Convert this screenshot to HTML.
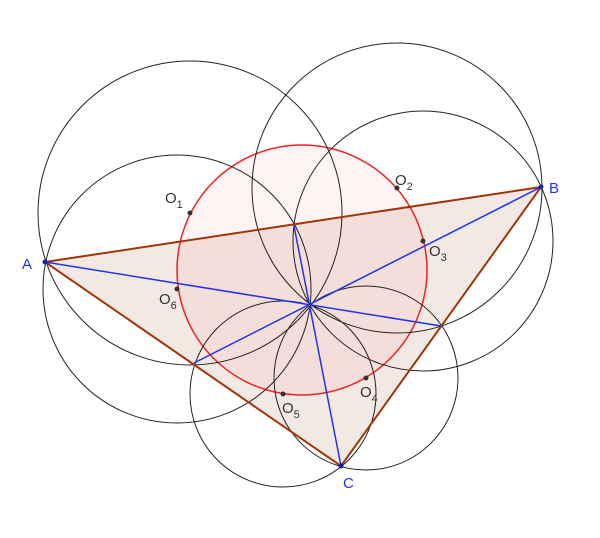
<!DOCTYPE html>
<html><head><meta charset="utf-8"><style>
html,body{margin:0;padding:0;background:#fff;}
svg{display:block;}
text{font-family:"Liberation Sans",sans-serif;}
</style></head><body>
<svg width="600" height="538" viewBox="0 0 600 538" xmlns="http://www.w3.org/2000/svg">
<polygon points="45,262 541,187 341,466" fill="#a0522d" fill-opacity="0.13" stroke="none"/>
<circle cx="302" cy="270" r="125" fill="#ff3333" fill-opacity="0.06" stroke="#ee2222" stroke-width="1.5"/>
<g fill="none" stroke="#222" stroke-width="1">
<circle cx="190" cy="213" r="152"/>
<circle cx="397" cy="188" r="145"/>
<circle cx="423" cy="241" r="130"/>
<circle cx="366" cy="378" r="92"/>
<circle cx="283" cy="394" r="93"/>
<circle cx="177" cy="289" r="134"/>
</g>
<polygon points="45,262 541,187 341,466" fill="none" stroke="#a0350a" stroke-width="2"/>
<g stroke="#2233ee" stroke-width="1.5">
<line x1="45" y1="262" x2="441" y2="326"/>
<line x1="541" y1="187" x2="194" y2="363"/>
<line x1="341" y1="466" x2="294" y2="226"/>
</g>
<g fill="#333">
<circle cx="190" cy="213" r="2.5"/><circle cx="397" cy="188" r="2.5"/>
<circle cx="423" cy="241" r="2.5"/><circle cx="366" cy="378" r="2.5"/>
<circle cx="283" cy="394" r="2.5"/><circle cx="177" cy="289" r="2.5"/>
</g>
<g fill="#1122aa">
<circle cx="45" cy="262" r="2.5"/><circle cx="541" cy="187" r="2.5"/><circle cx="341" cy="466" r="2.5"/>
</g>
<g fill="#333" font-size="15">
<text x="165" y="203">O<tspan font-size="11" dy="5">1</tspan></text>
<text x="395" y="185">O<tspan font-size="11" dy="5">2</tspan></text>
<text x="429" y="256">O<tspan font-size="11" dy="5">3</tspan></text>
<text x="360" y="397">O<tspan font-size="11" dy="5">4</tspan></text>
<text x="282" y="413">O<tspan font-size="11" dy="5">5</tspan></text>
<text x="159" y="304">O<tspan font-size="11" dy="5">6</tspan></text>
</g>
<g fill="#2233ee" font-size="15">
<text x="22" y="269">A</text>
<text x="549" y="193">B</text>
<text x="343" y="488">C</text>
</g>
</svg>
</body></html>
